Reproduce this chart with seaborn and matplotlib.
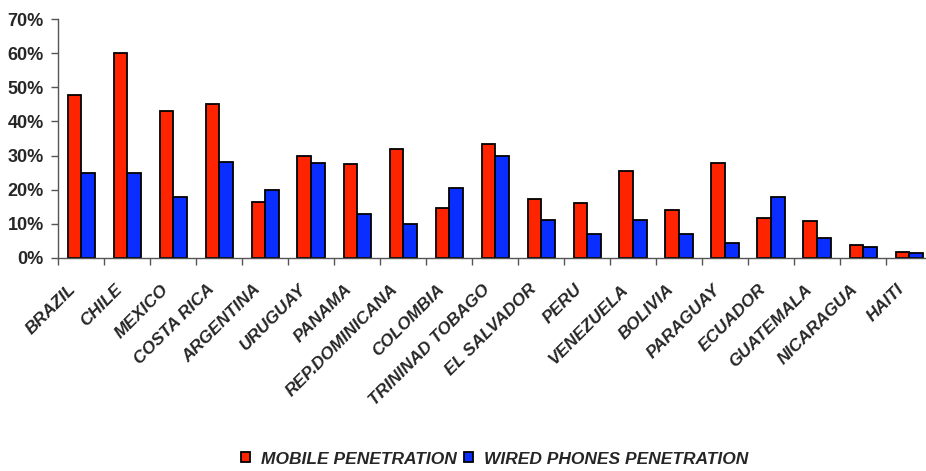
import matplotlib
matplotlib.use("Agg")
import matplotlib.pyplot as plt
from matplotlib.transforms import ScaledTranslation
from matplotlib.ticker import FixedLocator
import seaborn as sns
import pandas as pd

countries = ["BRAZIL", "CHILE", "MEXICO", "COSTA RICA", "ARGENTINA", "URUGUAY",
             "PANAMA", "REP.DOMINICANA", "COLOMBIA", "TRININAD TOBAGO", "EL SALVADOR",
             "PERU", "VENEZUELA", "BOLIVIA", "PARAGUAY", "ECUADOR", "GUATEMALA",
             "NICARAGUA", "HAITI"]
mobile = [47.8, 60.0, 43.0, 45.0, 16.5, 30.0, 27.5, 32.0, 14.5, 33.3, 17.2,
          16.0, 25.5, 14.0, 27.9, 11.6, 10.7, 3.7, 1.8]
wired = [25.0, 25.0, 18.0, 28.2, 20.0, 27.7, 12.8, 10.0, 20.4, 29.9, 11.2,
         7.0, 11.2, 7.0, 4.3, 18.0, 5.8, 3.1, 1.6]
series_names = ["MOBILE PENETRATION", "WIRED PHONES PENETRATION"]
colors = ["#FF2400", "#0A2EFF"]
y_ticks = [0, 10, 20, 30, 40, 50, 60, 70]
y_labels = ["0%", "10%", "20%", "30%", "40%", "50%", "60%", "70%"]

df = pd.DataFrame({
    "country": countries * 2,
    "value": mobile + wired,
    "series": [series_names[0]] * len(countries) + [series_names[1]] * len(countries),
})

sns.set_style("white")
plt.rcParams["font.family"] = ["Liberation Sans", "DejaVu Sans"]

fig = plt.figure(figsize=(9.26, 4.71), dpi=100)
ax = fig.add_axes([58.3 / 926, 1 - 258 / 471, 874 / 926, 239 / 471])

sns.barplot(data=df, x="country", y="value", hue="series", palette=colors,
            saturation=1, width=0.6, gap=0, edgecolor="black", linewidth=1.3,
            ax=ax, legend=True, errorbar=None)

ax.set_xlim(-0.5, len(countries) - 0.5)
ax.set_ylim(0, 70)
ax.set_xlabel("")
ax.set_ylabel("")

for s in ["top", "right"]:
    ax.spines[s].set_visible(False)
for s in ["left", "bottom"]:
    ax.spines[s].set_color("#555555")
    ax.spines[s].set_linewidth(1.0)

ax.set_yticks(y_ticks, y_labels, fontweight="bold", fontsize=13)
ax.tick_params(axis="y", which="major", length=5, width=1, color="#555555",
               direction="out", left=True, pad=5.5)

ax.set_xticks(range(len(countries)), countries, rotation=45, ha="right", va="top",
              rotation_mode="anchor", fontweight="bold", fontstyle="italic",
              fontsize=12.5)
ax.xaxis.set_minor_locator(FixedLocator([i + 0.5 for i in range(-1, len(countries))]))
ax.tick_params(axis="x", which="major", length=0, pad=17)
ax.tick_params(axis="x", which="minor", length=5, width=1, color="#555555",
               direction="out", bottom=True)
offset = ScaledTranslation(-0.13, 0, fig.dpi_scale_trans)
for lab in ax.get_xticklabels():
    lab.set_transform(lab.get_transform() + offset)

handles, labels = ax.get_legend_handles_labels()
ax.get_legend().remove()
leg = fig.legend(handles, labels, loc="center", bbox_to_anchor=(494.5 / 926, 1 - 459 / 471),
                 ncol=2, frameon=False, handlelength=0.52, handleheight=0.52,
                 handletextpad=0.6, columnspacing=0.45,
                 prop={"weight": "bold", "style": "italic", "size": 12.5})

fig.savefig("out.png", dpi=100)
